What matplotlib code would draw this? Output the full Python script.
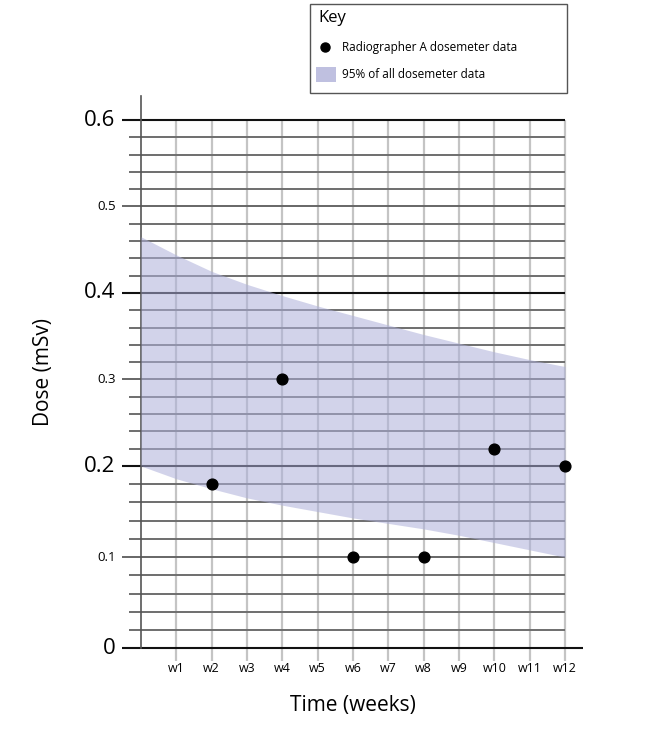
import matplotlib
matplotlib.use("Agg")
import matplotlib.pyplot as plt
import matplotlib.patches as mpatches
import numpy as np

plt.rcParams['font.family'] = ['Open Sans', 'DejaVu Sans']

# --- Data ---
weeks = [1, 2, 3, 4, 5, 6, 7, 8, 9, 10, 11, 12]
week_labels = ['w1', 'w2', 'w3', 'w4', 'w5', 'w6', 'w7', 'w8', 'w9', 'w10', 'w11', 'w12']
point_weeks = [2, 4, 6, 8, 10, 12]
point_dose = [0.18, 0.30, 0.10, 0.10, 0.22, 0.20]
band_weeks = [0, 1, 2, 3, 4, 5, 6, 7, 8, 9, 10, 11, 12]
band_upper = [0.465, 0.444, 0.425, 0.410, 0.397, 0.385, 0.374, 0.363, 0.352, 0.342, 0.332, 0.323, 0.315]
band_lower = [0.200, 0.186, 0.175, 0.165, 0.157, 0.150, 0.143, 0.137, 0.131, 0.124, 0.116, 0.108, 0.100]
big_ticks = [0, 0.2, 0.4, 0.6]
small_ticks = [0.1, 0.3, 0.5]


# the printed graph paper is slightly wider spaced below 0.2 than above it
def fwd(y):
    y = np.asarray(y, dtype=float)
    return np.where(y < 0.2, y * 911.5, 182.3 + (y - 0.2) * 865.0)


def inv(u):
    u = np.asarray(u, dtype=float)
    return np.where(u < 182.3, u / 911.5, 0.2 + (u - 182.3) / 865.0)


fig = plt.figure(figsize=(6.45, 7.4), dpi=100)
ax = fig.add_axes([141 / 645, 91.7 / 740, 424 / 645, 528.3 / 740])
ax.set_yscale('function', functions=(fwd, inv))
ax.set_xlim(0, 12)
ax.set_ylim(0, 0.6)
for s in ax.spines.values():
    s.set_visible(False)
ax.set_xticks([])
ax.set_yticks([])
ax.minorticks_off()

# horizontal grid lines every 0.02
for y in np.round(np.arange(0, 0.601, 0.02), 2):
    if y in big_ticks:
        x0, col, lw = -0.54, '#111111', 1.5
    elif y in small_ticks:
        x0, col, lw = -0.54, '#666666', 1.4
    else:
        x0, col, lw = -0.34, '#6e6e6e', 1.4
    x1 = 12.5 if y == 0 else 12
    ax.plot([x0, x1], [y, y], color=col, lw=lw, clip_on=False, zorder=2,
            solid_capstyle='butt')

# vertical grid lines at each week
for w in weeks:
    ax.plot([w, w], [-0.0136, 0.6], color='#c4c4c4', lw=1.6, clip_on=False, zorder=1,
            solid_capstyle='butt')
# left axis line
ax.plot([0, 0], [0, 0.628], color='#555555', lw=1.2, clip_on=False, zorder=3)

# 95% band
ax.fill_between(band_weeks, band_lower, band_upper, color='#aeb0da', alpha=0.55,
                lw=0, zorder=4)

# data points
ax.scatter(point_weeks, point_dose, s=60, color='black', zorder=6, clip_on=False)

# tick labels
for y in big_ticks:
    ax.text(-0.72, y, '0' if y == 0 else f'{y:.1f}', ha='right', va='center',
            fontsize=16, clip_on=False)
for y in small_ticks:
    ax.text(-0.72, y, f'{y:.1f}', ha='right', va='center', fontsize=9.5, clip_on=False)
for w, lab in zip(weeks, week_labels):
    ax.text(w, -0.022, lab, ha='center', va='center', fontsize=9, clip_on=False)

fig.text(353 / 645, 1 - 705 / 740, 'Time (weeks)', ha='center', va='center', fontsize=15)
fig.text(44 / 645, 1 - 372 / 740, 'Dose (mSv)', ha='center', va='center', fontsize=15,
         rotation=90)

# key box
fig.add_artist(mpatches.Rectangle((310 / 645, 1 - 93 / 740), 257 / 645, 89 / 740,
                                  transform=fig.transFigure, facecolor='white',
                                  edgecolor='#555555', lw=1.0))
fig.text(318 / 645, 1 - 18 / 740, 'Key', ha='left', va='center', fontsize=12)
fig.add_artist(plt.Line2D([325 / 645], [1 - 47 / 740], marker='o', color='black',
                          markersize=6.5, transform=fig.transFigure))
fig.text(342 / 645, 1 - 47 / 740, 'Radiographer A dosemeter data', ha='left',
         va='center', fontsize=8.5)
fig.add_artist(mpatches.Rectangle((316 / 645, 1 - 82 / 740), 20 / 645, 15 / 740,
                                  transform=fig.transFigure, facecolor='#bfc0e0',
                                  edgecolor='none'))
fig.text(342 / 645, 1 - 74 / 740, '95% of all dosemeter data', ha='left',
         va='center', fontsize=8.5)

fig.savefig('out.png', dpi=100)
